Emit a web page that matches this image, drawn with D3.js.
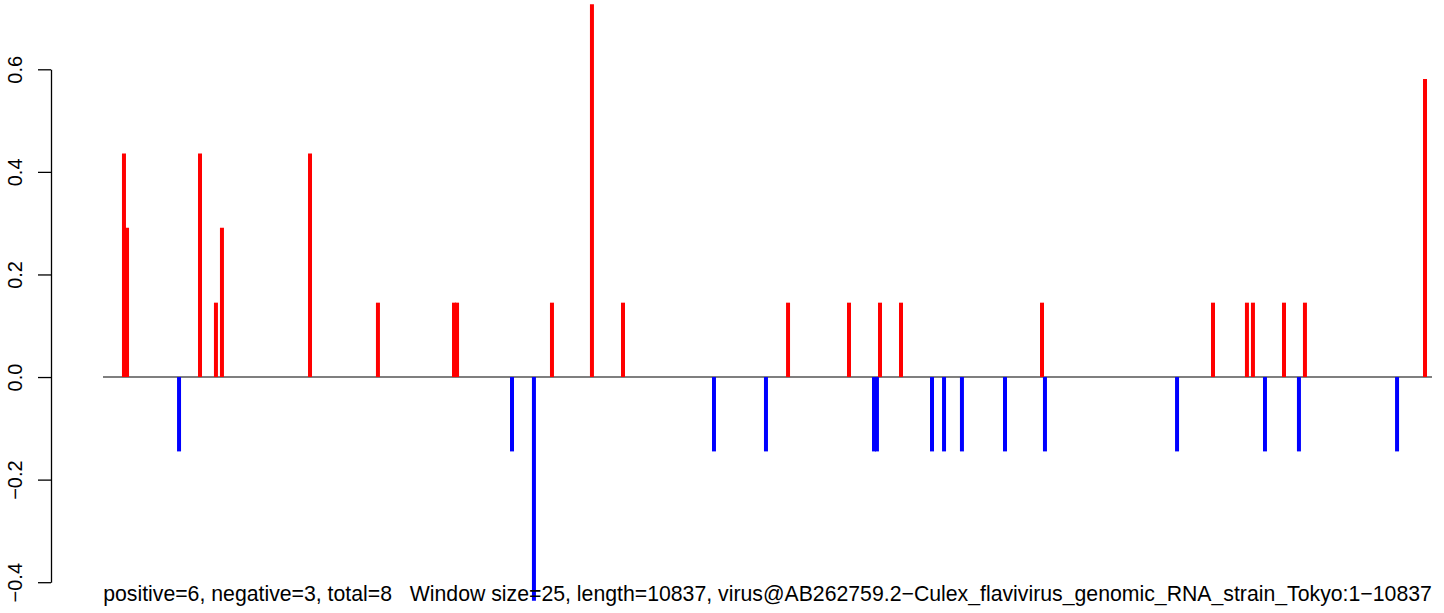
<!DOCTYPE html>
<html>
<head>
<meta charset="utf-8">
<script src="https://cdn.jsdelivr.net/npm/d3@7"></script>
<style>
  html, body { margin: 0; padding: 0; background: #fff; }
  svg { display: block; }
  text { font-family: "Liberation Sans", Arial, Helvetica, sans-serif; fill: #000; }
</style>
</head>
<body>
<svg id="chart" width="1444" height="613"></svg>
<script>
// ---- data ----
const genomeLength = 10837;
const positions = [171, 196, 620, 791, 921, 970, 1688, 2242, 2862, 2887,
  3335, 3514, 3661, 3987, 4240, 4982, 5406, 5586, 6083, 6287, 6311, 6336,
  6507, 6760, 6858, 7004, 7355, 7657, 7681, 8758, 9051, 9328, 9377, 9475,
  9630, 9752, 9801, 10552, 10780];
const values = [0.436, 0.291, -0.145, 0.436, 0.145, 0.291, 0.436, 0.145, 0.145, 0.145,
  -0.145, -0.436, 0.145, 0.727, 0.145, -0.145, -0.145, 0.145, 0.145, -0.145, -0.145, 0.145,
  0.145, -0.145, -0.145, -0.145, -0.145, 0.145, -0.145, -0.145, 0.145, 0.145, 0.145, -0.145,
  0.145, -0.145, 0.145, -0.145, 0.581];
const yTicks = [-0.4, -0.2, 0.0, 0.2, 0.4, 0.6];
const caption = "positive=6, negative=3, total=8   Window size=25, length=10837, virus@AB262759.2\u2212Culex_flavivirus_genomic_RNA_strain_Tokyo:1\u221210837";

// ---- layout ----
const svg = d3.select("#chart");
const x = d3.scaleLinear().domain([0, genomeLength]).range([103, 1432]);
const y = d3.scaleLinear().domain([-0.4, 0.6]).range([582.2, 69.3]);
const axisX = 51;

// y axis
const yAxis = d3.axisLeft(y)
  .tickValues(yTicks)
  .tickSize(13)
  .tickSizeOuter(0)
  .tickFormat(d => d3.format(".1f")(d).replace("-", "\u2212"));

const gAxis = svg.append("g")
  .attr("transform", `translate(${axisX},0)`)
  .call(yAxis);
gAxis.select(".domain").attr("stroke", "#000").attr("stroke-width", 1.3);
gAxis.selectAll(".tick line").attr("stroke", "#000").attr("stroke-width", 1.3);
gAxis.selectAll(".tick text")
  .attr("transform", "rotate(-90)")
  .attr("x", 0)
  .attr("y", -29)
  .attr("dy", 0)
  .attr("text-anchor", "middle")
  .style("font-family", "'Liberation Sans', Arial, sans-serif")
  .style("font-size", "20px")
  .attr("fill", "#000");

// zero baseline
svg.append("line")
  .attr("x1", x(0)).attr("x2", x(genomeLength))
  .attr("y1", y(0)).attr("y2", y(0))
  .attr("stroke", "#555555")
  .attr("stroke-width", 1.4);

// bars (type = "h")
svg.append("g")
  .selectAll("line")
  .data(positions.map((p, i) => ({ p, v: values[i] })))
  .join("line")
  .attr("x1", d => x(d.p)).attr("x2", d => x(d.p))
  .attr("y1", y(0)).attr("y2", d => y(d.v))
  .attr("stroke", d => d.v >= 0 ? "#FF0000" : "#0000FF")
  .attr("stroke-width", 4)
  .attr("stroke-linecap", "butt");

// caption
const cap = svg.append("text")
  .attr("x", (x(0) + x(genomeLength)) / 2)
  .attr("y", 600.5)
  .attr("text-anchor", "middle")
  .attr("xml:space", "preserve")
  .style("white-space", "pre")
  .style("font-size", "20px")
  .text(caption);
const targetW = x(genomeLength) - x(0);
const w = cap.node().getComputedTextLength();
cap.style("font-size", (20 * targetW / w).toFixed(2) + "px");
</script>
</body>
</html>
